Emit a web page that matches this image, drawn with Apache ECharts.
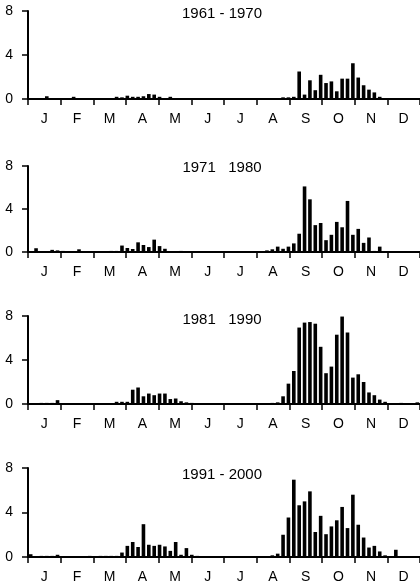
<!DOCTYPE html>
<html>
<head>
<meta charset="utf-8">
<script src="https://cdn.jsdelivr.net/npm/echarts@6/dist/echarts.min.js"></script>
<style>
html,body{margin:0;padding:0;background:#fff;}
#chart{width:420px;height:587px;}
</style>
</head>
<body>
<div id="chart"></div>
<script>
// ---- DATA ----
const months = ['J','F','M','A','M','J','J','A','S','O','N','D'];
const pentads = ['1','2','3','4','5','6','7','8','9','10','11','12','13','14','15','16','17','18','19','20','21','22','23','24','25','26','27','28','29','30','31','32','33','34','35','36','37','38','39','40','41','42','43','44','45','46','47','48','49','50','51','52','53','54','55','56','57','58','59','60','61','62','63','64','65','66','67','68','69','70','71','72','73'];
const yTicks = [0, 4, 8];
const titles = ['1961 - 1970', '1971   1980', '1981   1990', '1991 - 2000'];

const d1961 = [0,0,0,0.25,0,0,0,0,0.2,0,0,0,0,0,0,0,0.2,0.15,0.3,0.2,0.2,0.25,0.45,0.4,0.2,0,0.2,0,0,0,0,0,0,0,0,0,0,0,0,0,0,0,0,0,0,0,0.05,0.15,0.15,0.2,2.5,0.4,1.7,0.8,2.2,1.45,1.6,0.7,1.85,1.85,3.25,1.95,1.25,0.85,0.6,0.2,0,0,0.05,0.05,0.05,0.05,0.05];
const d1971 = [0,0.35,0,0,0.2,0.15,0.1,0,0,0.25,0,0,0,0,0,0.1,0.1,0.6,0.37,0.28,0.9,0.65,0.46,1.15,0.55,0.3,0.05,0,0.1,0,0,0,0,0,0,0,0,0,0,0,0,0,0,0,0.15,0.25,0.5,0.3,0.5,0.8,1.7,6.1,4.9,2.5,2.7,1.1,1.6,2.8,2.3,4.75,1.6,2.15,0.85,1.35,0.1,0.5,0,0,0.05,0.05,0.05,0.05,0.05];
const d1981 = [0,0,0.1,0.1,0.1,0.35,0,0,0,0,0,0,0,0,0,0.05,0.2,0.2,0.2,1.3,1.5,0.7,0.95,0.8,0.95,0.95,0.45,0.5,0.25,0.15,0.1,0.05,0,0,0,0,0,0,0,0,0,0,0,0.05,0.05,0.1,0.15,0.7,1.85,3.0,6.95,7.4,7.45,7.3,5.2,2.8,3.4,6.3,7.95,6.5,2.4,2.7,2.0,1.05,0.8,0.4,0.2,0.05,0.05,0.1,0.05,0.05,0.15];
const d1991 = [0.25,0,0.1,0.1,0.1,0.2,0,0,0,0,0,0.1,0,0.1,0.1,0.1,0.1,0.4,1.0,1.35,0.9,2.95,1.1,1.0,1.1,0.95,0.55,1.35,0.2,0.8,0.2,0.1,0,0,0,0,0,0,0,0,0,0,0,0,0,0.15,0.3,2.0,3.55,6.95,4.65,5.0,5.9,2.25,3.7,2.05,2.75,3.3,4.5,2.6,5.6,2.9,1.75,0.85,1.0,0.5,0.15,0,0.65,0,0.05,0.05,0.05];
const panels = [d1961, d1971, d1981, d1991];

// ---- LAYOUT ----
const FONT = '"Liberation Sans", Arial, Helvetica, sans-serif';
const gridTops = [11, 166, 316, 468];
const gridHeights = [88, 86, 88, 89];
const titleY = [14, 168, 320, 475];

const grid = [], xAxis = [], yAxis = [], series = [], graphic = [];
panels.forEach((vals, k) => {
  grid.push({left: 28, width: 394, top: gridTops[k], height: gridHeights[k], containLabel: false});
  xAxis.push({
    gridIndex: k, type: 'category', data: months, boundaryGap: true,
    axisLine: {show: true, lineStyle: {color: '#000', width: 2}},
    axisTick: {show: true, interval: 0, length: 6, alignWithLabel: false, lineStyle: {color: '#000', width: 1.5}},
    axisLabel: {interval: 0, color: '#000', fontSize: 14, margin: 13, fontFamily: FONT},
    splitLine: {show: false}
  });
  xAxis.push({gridIndex: k, type: 'category', data: pentads, show: false, boundaryGap: true});
  yAxis.push({
    gridIndex: k, type: 'value', min: yTicks[0], max: yTicks[yTicks.length - 1], interval: yTicks[1] - yTicks[0],
    axisLine: {show: true, lineStyle: {color: '#000', width: 2}},
    axisTick: {show: true, length: 6, lineStyle: {color: '#000', width: 1.5}},
    axisLabel: {color: '#000', fontSize: 14, margin: 15, fontFamily: FONT},
    splitLine: {show: false}
  });
  series.push({
    type: 'bar', xAxisIndex: 2 * k + 1, yAxisIndex: k, data: vals,
    barWidth: 3.6, itemStyle: {color: '#000'}, silent: true, animation: false
  });
  graphic.push({
    type: 'text', x: 222, y: titleY[k],
    style: {text: titles[k], fill: '#000', font: '15px ' + FONT, textAlign: 'center', textVerticalAlign: 'middle'}
  });
});

const chart = echarts.init(document.getElementById('chart'), null, {renderer: 'canvas'});
chart.setOption({
  animation: false,
  backgroundColor: '#fff',
  grid, xAxis, yAxis, series, graphic
});
</script>
</body>
</html>
